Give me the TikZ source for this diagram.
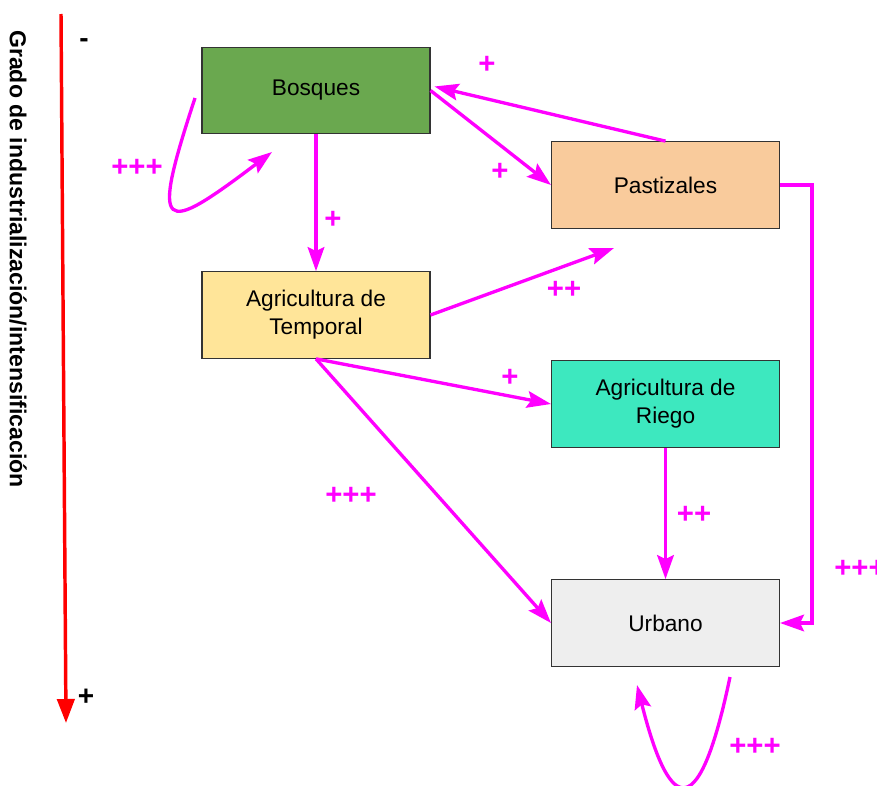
\documentclass[tikz,border=0pt]{standalone}
\usepackage{fontspec}
\setmainfont{Liberation Sans}
\usepackage{tikz}
\usetikzlibrary{arrows.meta, positioning}
\definecolor{signmag}{HTML}{FF00FF}
\definecolor{bosquesgreen}{HTML}{6AA84F}
\definecolor{pastizalpeach}{HTML}{F9CB9C}
\definecolor{temporalyellow}{HTML}{FFE599}
\definecolor{riegoteal}{HTML}{3DE8BF}
\definecolor{urbanogray}{HTML}{EEEEEE}
\tikzstyle{landuse} = [rectangle, minimum width=171pt, minimum height=65pt, text centered, align=center, draw=black!80, line width=0.8pt, font=\fontsize{17}{21}\selectfont]
\tikzstyle{influence} = [line width=2.5pt, draw=signmag, -{Stealth[length=18pt,width=12.5pt,inset=3pt]}]
\tikzstyle{sign} = [text=signmag, font=\fontsize{22}{26}\selectfont\bfseries]
\tikzstyle{axislabel} = [text=black, font=\fontsize{21}{24}\selectfont\bfseries]

\begin{document}
\begin{tikzpicture}[x=0.75pt, y=-0.75pt]
  \useasboundingbox (0,0) rectangle (877,785);
  \clip (0,0) rectangle (877,785);

  % axis
  \coordinate (axtop) at (61,14);
  \coordinate (axbot) at (66,723);
  \draw[red, line width=2.6pt, -{Triangle[length=18pt,width=13pt]}] (axtop) -- (axbot);
  \node (grado) [rotate=-90, font=\fontsize{17.3}{20}\selectfont\bfseries] at (18,259) {Grado de industrialización/intensificación};
  \node (menos) [axislabel] at (84,43) {-};
  \node (mas) [axislabel] at (86,697) {+};

  % land uses
  \node (bosques) [landuse, fill=bosquesgreen] at (316,90.5) {Bosques};
  \node (pastizales) [landuse, fill=pastizalpeach] at (665.5,185) {Pastizales};
  \node (temporal) [landuse, fill=temporalyellow] at (316,315) {Agricultura de\\Temporal};
  \node (riego) [landuse, fill=riegoteal] at (665.5,404) {Agricultura de\\Riego};
  \node (urbano) [landuse, fill=urbanogray] at (665.5,623) {Urbano};

  % free ends
  \coordinate (bloopin) at (195,98);
  \coordinate (bloopout) at (272,152);
  \coordinate (uloopin) at (730,677);
  \coordinate (uloopout) at (637,685);
  \coordinate (towardpast) at (614,248);

  \draw[influence] (bloopin) .. controls (150,235) and (161,236) .. (bloopout);
  \draw[influence] (bosques.east) -- (pastizales.west);
  \draw[influence] (pastizales.north) -- ([xshift=3pt,yshift=3pt]bosques.east);
  \draw[influence] (bosques.south) -- (temporal.north);
  \draw[influence] (temporal.east) -- (towardpast);
  \draw[influence] (temporal.south) -- (riego.west);
  \draw[influence] (temporal.south) -- (urbano.west);
  \draw[influence] (riego.south) -- (urbano.north);
  \draw[influence] (pastizales.east) -- ++(32,0) |- (urbano.east);
  \draw[influence] (uloopin) .. controls (700,820) and (671,820) .. (uloopout);

  % signs
  \node (sbloop) [sign] at (137,168) {+++};
  \node (sbp) [sign] at (500,172) {+};
  \node (spb) [sign] at (487,65) {+};
  \node (sbt) [sign] at (333,220) {+};
  \node (stp) [sign] at (564,290) {++};
  \node (str) [sign] at (510,378) {+};
  \node (stu) [sign] at (351,496) {+++};
  \node (sru) [sign] at (694,515) {++};
  \node (spu) [sign] at (860,569) {+++};
  \node (suloop) [sign] at (755,747) {+++};
\end{tikzpicture}
\end{document}
